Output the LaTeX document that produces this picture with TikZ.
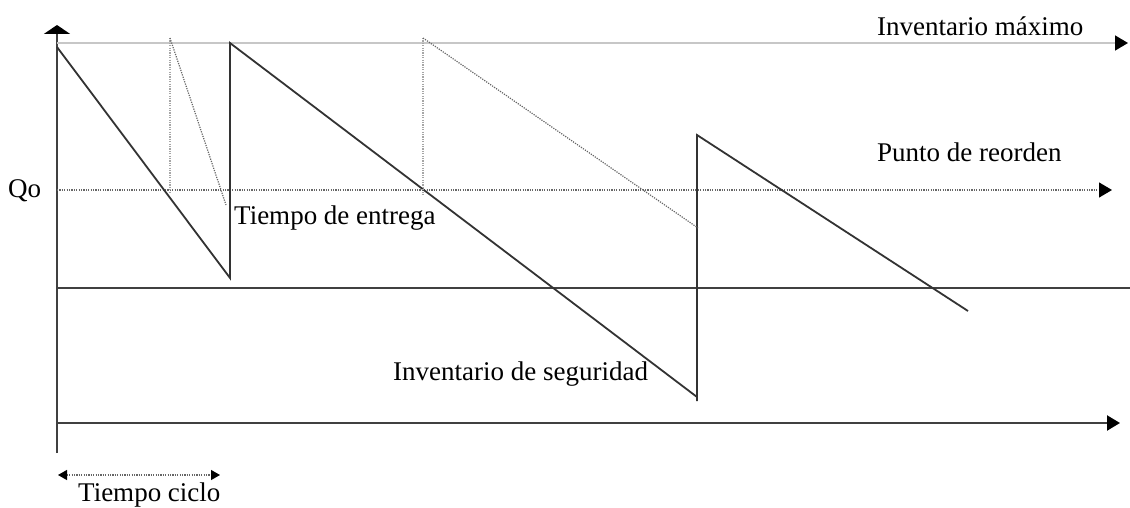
\documentclass[tikz,border=0pt]{standalone}
\usepackage{fontspec}
\setmainfont{Liberation Serif}
\usetikzlibrary{arrows.meta}
\begin{document}
\begin{tikzpicture}[x=1pt,y=-1pt,
  mainline/.style={line width=1.8pt, black!80},
  axisline/.style={line width=2.2pt, black!75},
  guide/.style={line width=1.2pt, black!60, dash pattern=on 1.2pt off 1.2pt},
  lightguide/.style={line width=1.2pt, black!35, dash pattern=on 1.2pt off 1.2pt},
  lbl/.style={font=\fontsize{27}{29}\selectfont, inner sep=0pt, anchor=base west},
  bigtip/.style={-{Triangle[length=13pt,width=15pt,color=black]}},
  smalltips/.style={{Triangle[length=9pt,width=10pt,color=black]}-{Triangle[length=9pt,width=10pt,color=black]}}]
\useasboundingbox (0,0) rectangle (1130,508);
% coordinates
\coordinate (ybot) at (57,453);
\coordinate (ytop) at (57,25);
\coordinate (maxL) at (57,43);
\coordinate (maxR) at (1128,43);
\coordinate (roL) at (57,190);
\coordinate (roR) at (1112,190);
\coordinate (ssL) at (57,288);
\coordinate (ssR) at (1130,288);
\coordinate (xL) at (57,423);
\coordinate (xR) at (1120,423);
\coordinate (s0) at (57,47);
\coordinate (s1) at (230,278);
\coordinate (s2) at (230,43);
\coordinate (s3) at (697,397);
\coordinate (s3b) at (697,401);
\coordinate (s4) at (697,135);
\coordinate (s5) at (968,311);
\coordinate (d1t) at (170,38);
\coordinate (d1b) at (170,192);
\coordinate (d1e) at (226,205);
\coordinate (d2t) at (423,38);
\coordinate (d2b) at (423,195);
\coordinate (d2e) at (698,228);
\coordinate (cL) at (58,475);
\coordinate (cR) at (220,475);
% axes and level lines
\draw[axisline, -{Triangle[length=9pt,width=26pt,color=black]}] (ybot) -- (ytop);
\draw[line width=1.5pt, black!22, bigtip] (maxL) -- (maxR);
\draw[guide, bigtip] (roL) -- (roR);
\draw[axisline] (ssL) -- (ssR);
\draw[axisline, bigtip] (xL) -- (xR);
% sawtooth
\draw[mainline] (s0) -- (s1) -- (s2) -- (s3);
\draw[mainline] (s3b) -- (s4) -- (s5);
% dotted guides
\draw[lightguide] (d1t) -- (d1b);
\draw[guide] (d1t) -- (d1e);
\draw[lightguide] (d2t) -- (d2b);
\draw[guide] (d2t) -- (d2e);
% cycle time arrow
\draw[guide, smalltips] (cL) -- (cR);
% labels
\node[lbl] (qo) at (8,197) {Qo};
\node[lbl] (imax) at (877,36) {Inventario máximo};
\node[lbl] (preo) at (877,161) {Punto de reorden};
\node[lbl] (tent) at (234,224) {Tiempo de entrega};
\node[lbl] (iseg) at (393,380) {Inventario de seguridad};
\node[lbl] (tcic) at (78,501) {Tiempo ciclo};
\end{tikzpicture}
\end{document}
